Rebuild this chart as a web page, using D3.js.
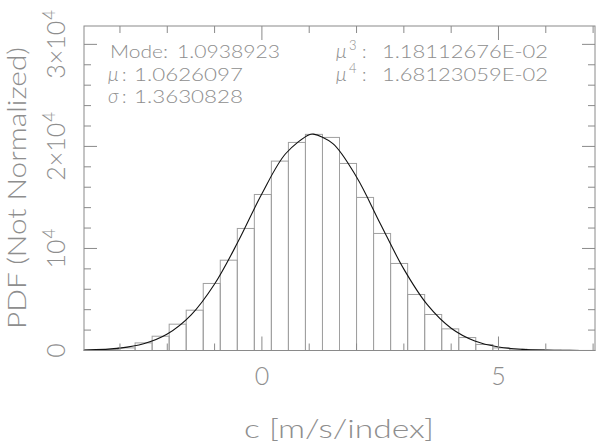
<!DOCTYPE html>
<html>
<head>
<meta charset="utf-8">
<script src="https://cdn.jsdelivr.net/npm/d3@7"></script>
<style>
  html, body { margin: 0; padding: 0; background: #fff; }
  svg { display: block; }
  text { font-family: "Lato", "DejaVu Sans", sans-serif; font-weight: 300; fill: #8e8e8e; }
</style>
</head>
<body>
<svg id="chart" width="600" height="446"></svg>
<script>
// ---------- data ----------
const binLefts = [-3.76, -3.40, -3.04, -2.68, -2.32, -1.96, -1.60, -1.24, -0.88, -0.52,
                  -0.16, 0.20, 0.56, 0.92, 1.28, 1.64, 2.00, 2.36, 2.72, 3.08,
                  3.44, 3.80, 4.16, 4.52, 4.88, 5.24, 5.60, 5.96, 6.32, 6.68];
const binWidth = 0.36;
const binCounts = [40, 100, 255, 745, 1400, 2580, 3950, 6570, 8850, 11960,
                   15290, 18560, 20390, 21180, 20880, 18330, 15000, 11470, 8530, 5490,
                   3530, 2120, 1270, 590, 255, 130, 80, 30, 12, 5];
const curveX = [-3.76, -3.0, -2.5, -2.0, -1.5, -1.0, -0.5, 0.0, 0.5, 1.0, 1.09, 1.5, 2.0, 2.5, 3.0, 3.5, 4.0, 4.5, 5.0, 5.5, 6.0, 6.5, 7.04];
const curveY = [36, 233, 656, 1613, 3466, 6515, 10700, 15364, 19280, 21150, 21200, 20280, 17000, 12450, 7975, 4465, 2184, 934, 349, 114, 33, 8, 1];
const xMinorTicks = [-3, -2, -1, 0, 1, 2, 3, 4, 5, 6, 7];
const xMajorTicks = [0, 5];
const xTickLabels = ["0", "5"];
const yMinorTicks = [0, 2000, 4000, 6000, 8000, 10000, 12000, 14000, 16000, 18000, 20000, 22000, 24000, 26000, 28000, 30000];
const yMajorTicks = [0, 10000, 20000, 30000];
const yTickLabels = [["0", ""], ["10", "4"], ["2×10", "4"], ["3×10", "4"]];
const statsLeft = [["Mode", "1.0938923"], ["μ", "1.0626097"], ["σ", "1.3630828"]];
const statsRight = [["μ", "3", "1.18112676E-02"], ["μ", "4", "1.68123059E-02"]];
const xTitle = "c [m/s/index]";
const yTitle = "PDF (Not Normalized)";

// ---------- layout ----------
const L = 84, R = 595, T = 26, B = 350.5;
const gray = "#8a8a8a";
const svg = d3.select("#chart");
const x = d3.scaleLinear().domain([-3.76, 7.04]).range([L, R]);
const y = d3.scaleLinear().domain([0, 31800]).range([B, T]);

// bars
svg.append("g").selectAll("rect").data(binLefts).join("rect")
  .attr("x", (d) => x(d))
  .attr("y", (d, i) => y(binCounts[i]))
  .attr("width", (d) => x(d + binWidth) - x(d))
  .attr("height", (d, i) => B - y(binCounts[i]))
  .attr("fill", "none")
  .attr("stroke", "#a0a0a0")
  .attr("stroke-width", 1);

// curve
const line = d3.line().x((d, i) => x(curveX[i])).y((d) => y(d)).curve(d3.curveCatmullRom);
svg.append("path").attr("d", line(curveY))
  .attr("fill", "none").attr("stroke", "#111").attr("stroke-width", 1.1);

// frame
svg.append("rect").attr("x", L).attr("y", T).attr("width", R - L).attr("height", B - T)
  .attr("fill", "none").attr("stroke", gray).attr("stroke-width", 1);

// ticks
const tg = svg.append("g").attr("stroke", gray).attr("stroke-width", 1);
xMinorTicks.forEach((v) => {
  const len = xMajorTicks.includes(v) ? 14 : 7;
  tg.append("line").attr("x1", x(v)).attr("x2", x(v)).attr("y1", B).attr("y2", B - len);
  tg.append("line").attr("x1", x(v)).attr("x2", x(v)).attr("y1", T).attr("y2", T + len);
});
yMinorTicks.forEach((v) => {
  const len = yMajorTicks.includes(v) ? 13 : 7;
  tg.append("line").attr("x1", L).attr("x2", L + len).attr("y1", y(v)).attr("y2", y(v));
  tg.append("line").attr("x1", R).attr("x2", R - len).attr("y1", y(v)).attr("y2", y(v));
});

// x tick labels
xMajorTicks.forEach((v, i) => {
  svg.append("text").attr("x", x(v)).attr("y", 385).attr("text-anchor", "middle")
    .attr("font-size", 25).text(xTickLabels[i]);
});

// y tick labels (rotated)
yMajorTicks.forEach((v, i) => {
  const t = svg.append("text")
    .attr("transform", `translate(65,${y(v)}) rotate(-90)`)
    .attr("text-anchor", "middle").attr("font-size", 25);
  t.append("tspan").text(yTickLabels[i][0]);
  if (yTickLabels[i][1]) t.append("tspan").attr("dx", 1).attr("dy", -10).attr("font-size", 17).text(yTickLabels[i][1]);
});

// axis titles
svg.append("text").attr("x", 339).attr("y", 438).attr("text-anchor", "middle")
  .attr("font-size", 26).attr("textLength", 190).attr("lengthAdjust", "spacingAndGlyphs").text(xTitle);
svg.append("text").attr("transform", "translate(26,188) rotate(-90)").attr("text-anchor", "middle")
  .attr("font-size", 26).attr("textLength", 282).attr("lengthAdjust", "spacingAndGlyphs").text(yTitle);

// stats text
const rowsY = [58, 81, 103];
const fs = 18.5;
// left column
svg.append("text").attr("x", 110).attr("y", rowsY[0]).attr("font-size", fs)
  .attr("textLength", 58).attr("lengthAdjust", "spacingAndGlyphs").text(statsLeft[0][0] + ":");
svg.append("text").attr("x", 177).attr("y", rowsY[0]).attr("font-size", fs)
  .attr("textLength", 103).attr("lengthAdjust", "spacingAndGlyphs").text(statsLeft[0][1]);
[1, 2].forEach((r) => {
  svg.append("text").attr("x", 108).attr("y", rowsY[r]).attr("font-size", fs + 1)
    .attr("font-style", "italic").text(statsLeft[r][0]);
  svg.append("text").attr("x", 122).attr("y", rowsY[r]).attr("font-size", fs).text(":");
  svg.append("text").attr("x", 134).attr("y", rowsY[r]).attr("font-size", fs)
    .attr("textLength", 109).attr("lengthAdjust", "spacingAndGlyphs").text(statsLeft[r][1]);
});
// right column
statsRight.forEach((s, r) => {
  svg.append("text").attr("x", 336).attr("y", rowsY[r]).attr("font-size", fs + 1)
    .attr("font-style", "italic").text(s[0]);
  svg.append("text").attr("x", 349).attr("y", rowsY[r] - 8).attr("font-size", 13).text(s[1]);
  svg.append("text").attr("x", 362).attr("y", rowsY[r]).attr("font-size", fs).text(":");
  svg.append("text").attr("x", 382).attr("y", rowsY[r]).attr("font-size", fs)
    .attr("textLength", 166).attr("lengthAdjust", "spacingAndGlyphs").text(s[2]);
});
</script>
</body>
</html>
